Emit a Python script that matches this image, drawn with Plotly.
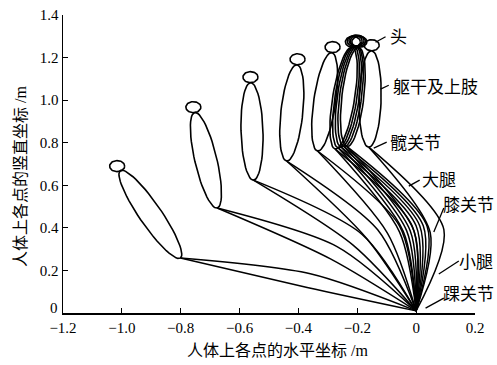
import numpy as np
import plotly.graph_objects as go

# ---- data (metres) ----
# poses of the falling body: head centre, hip, knee, ankle
head_x = [-1.016, -0.757, -0.563, -0.403, -0.284, -0.215, -0.209, -0.203, -0.198, -0.193, -0.151]
head_y = [0.690, 0.967, 1.108, 1.192, 1.249, 1.274, 1.278, 1.280, 1.278, 1.274, 1.258]
hip_x = [-0.801, -0.676, -0.553, -0.440, -0.335, -0.275, -0.265, -0.255, -0.245, -0.235, -0.161]
hip_y = [0.258, 0.493, 0.624, 0.714, 0.761, 0.770, 0.776, 0.780, 0.782, 0.782, 0.779]
knee_x = [-0.365, -0.280, -0.200, -0.149, -0.077, -0.035, -0.022, -0.010, 0.002, 0.015, 0.071]
knee_y = [0.152, 0.283, 0.345, 0.370, 0.392, 0.395, 0.397, 0.398, 0.398, 0.396, 0.385]
ankle_x = [0.0, 0.0, 0.0, 0.0, 0.0, 0.0, 0.0, 0.0, 0.0, 0.0, 0.0]
ankle_y = [0.01, 0.01, 0.01, 0.01, 0.01, 0.01, 0.01, 0.01, 0.01, 0.01, 0.01]

x_ticks = [-1.2, -1.0, -0.8, -0.6, -0.4, -0.2, 0, 0.2]
y_ticks = [0, 0.2, 0.4, 0.6, 0.8, 1.0, 1.2, 1.4]

labels = ["头", "躯干及上肢", "髋关节", "大腿", "膝关节", "小腿", "踝关节"]
label_x = [-0.095, -0.085, -0.097, 0.012, 0.086, 0.140, 0.086]
label_y = [1.305, 1.070, 0.807, 0.634, 0.516, 0.249, 0.094]
leader_x0 = [-0.138, -0.121, -0.144, -0.025, 0.094, 0.145, 0.094]
leader_y0 = [1.272, 1.052, 0.775, 0.596, 0.493, 0.244, 0.070]
leader_x1 = [-0.104, -0.093, -0.100, 0.012, 0.060, 0.077, 0.032]
leader_y1 = [1.298, 1.070, 0.803, 0.624, 0.380, 0.183, 0.023]

# ---- layout geometry ----
W, H = 497, 365
ML, MR, MT, MB = 63, 22, 15, 52
XR = [-1.2, 0.2]
YR = [0.0, 1.4]
SX = (W - ML - MR) / (XR[1] - XR[0])   # px per metre horizontally
SY = (H - MT - MB) / (YR[1] - YR[0])   # px per metre vertically

HEAD_RX, HEAD_RY = 7.5, 5.5     # px
TORSO_W = 11.0                   # px half width
LEG_W = 7.0                      # px half width of leg outline at the knee

def P(x, y):
    return np.array([x * SX, y * SY])

def D(p):
    return p[0] / SX, p[1] / SY

def ellipse(c, u, a, b, n=60):
    u = u / np.linalg.norm(u)
    v = np.array([-u[1], u[0]])
    t = np.linspace(0, 2 * np.pi, n)
    return c[None, :] + np.outer(a * np.cos(t), u) + np.outer(b * np.sin(t), v)

def add_pts(xs, ys, pts):
    for p in pts:
        x, y = D(p)
        xs.append(x); ys.append(y)
    xs.append(None); ys.append(None)

hx, hy = [], []
tx, ty = [], []
lx, ly = [], []
for i in range(len(head_x)):
    Hd = P(head_x[i], head_y[i])
    Hp = P(hip_x[i], hip_y[i])
    K = P(knee_x[i], knee_y[i])
    A = P(ankle_x[i], ankle_y[i])
    add_pts(hx, hy, ellipse(Hd, np.array([1.0, 0.0]), HEAD_RX, HEAD_RY))
    d = Hp - Hd
    dn = d / np.linalg.norm(d)
    neck = Hd + dn * HEAD_RY
    c = (neck + Hp) / 2
    add_pts(tx, ty, ellipse(c, dn, np.linalg.norm(Hp - neck) / 2, TORSO_W))
    d1 = (K - Hp) / np.linalg.norm(K - Hp)
    d2 = (A - K) / np.linalg.norm(A - K)
    n1 = np.array([-d1[1], d1[0]])
    n2 = np.array([-d2[1], d2[0]])
    nk = (n1 + n2) / np.linalg.norm(n1 + n2)
    for s in (1, -1):
        add_pts(lx, ly, [Hp, K + s * LEG_W * nk, A])

line = dict(color="black", width=1.6)
fig = go.Figure()
fig.add_trace(go.Scatter(x=lx, y=ly, mode="lines",
                         line=dict(color="black", width=1.5, shape="spline", smoothing=0.8),
                         hoverinfo="skip"))
fig.add_trace(go.Scatter(x=tx, y=ty, mode="lines", line=line, hoverinfo="skip"))
fig.add_trace(go.Scatter(x=hx, y=hy, mode="lines", line=line, hoverinfo="skip"))

font_family = "Liberation Serif, 'Noto Sans CJK SC', serif"
for i, t in enumerate(labels):
    fig.add_annotation(x=label_x[i], y=label_y[i], text=t, showarrow=False,
                       xanchor="left", yanchor="middle",
                       font=dict(family="'Noto Sans CJK SC'", size=17, color="#000000"))
    fig.add_shape(type="line", x0=leader_x0[i], y0=leader_y0[i], x1=leader_x1[i], y1=leader_y1[i],
                  line=dict(color="black", width=1.3))

PW, PH = W - ML - MR, H - MT - MB
fig.add_annotation(xref="paper", yref="paper", x=(277 - ML) / PW, y=(313 - 350) / PH,
                   text="人体上各点的水平坐标 /m", showarrow=False,
                   xanchor="center", yanchor="middle",
                   font=dict(family=font_family, size=16, color="black"))
fig.add_annotation(xref="paper", yref="paper", x=(20 - ML) / PW, y=(313 - 177) / PH,
                   text="人体上各点的竖直坐标 /m", showarrow=False, textangle=-90,
                   xanchor="center", yanchor="middle",
                   font=dict(family=font_family, size=16, color="black"))
# y-axis "0" label raised slightly (as in the reference) so it clears the x label
fig.add_annotation(xref="paper", yref="y", x=0, y=y_ticks[0], text="0", showarrow=False,
                   xanchor="right", yanchor="middle", xshift=-3, yshift=5,
                   font=dict(family="Liberation Serif, serif", size=15, color="black"))

axis_common = dict(showgrid=False, zeroline=False, showline=True, linecolor="black", linewidth=1.5,
                   ticks="inside", ticklen=5, tickcolor="black", tickwidth=1.2, automargin=False,
                   ticklabeloverflow="allow",
                   tickfont=dict(family="Liberation Serif, serif", size=15, color="black"))
fig.update_layout(
    width=W, height=H,
    margin=dict(l=ML, r=MR, t=MT, b=MB),
    paper_bgcolor="white", plot_bgcolor="white",
    showlegend=False,
    xaxis=dict(range=XR, tickvals=x_ticks,
               ticktext=[("%.1f" % v).replace("-", "\u2212") if v != 0 else "0" for v in x_ticks],
               **axis_common),
    yaxis=dict(range=YR, tickvals=y_ticks,
               ticktext=["%.1f" % v if v != 0 else "" for v in y_ticks], **axis_common),
)
fig.write_html("out.html",
               config={"staticPlot": True, "displayModeBar": False},
               post_script="document.body.style.margin='0';document.body.style.overflow='hidden';")
